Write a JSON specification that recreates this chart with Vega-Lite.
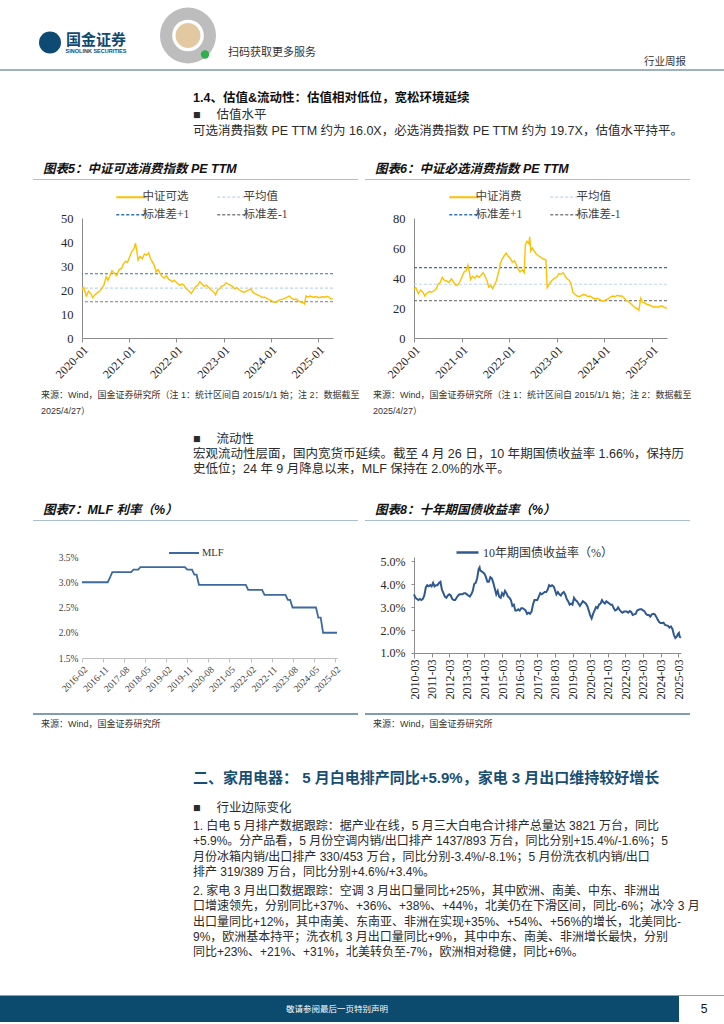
{
"$schema": "https://vega.github.io/schema/vega-lite/v6.json",
"padding": 0,
"spacing": 0,
"bounds": "flush",
"columns": 8,
"background": "white",
"resolve": {"scale": {"color": "independent"}},
"config": {"font": "Liberation Sans, Noto Sans CJK SC", "view": {"stroke": null}},
"datasets": {
"pe_kx": [
{"date":"2020-01-02","pe":20.0},{"date":"2020-01-15","pe":21.0},{"date":"2020-02-03","pe":17.5},{"date":"2020-02-20","pe":19.5},{"date":"2020-03-10","pe":18.5},{"date":"2020-03-23","pe":16.8},{"date":"2020-04-10","pe":18.0},{"date":"2020-04-28","pe":18.8},{"date":"2020-05-15","pe":19.5},{"date":"2020-06-01","pe":20.5},{"date":"2020-06-18","pe":22.0},{"date":"2020-07-06","pe":25.5},{"date":"2020-07-20","pe":24.0},{"date":"2020-08-05","pe":26.0},{"date":"2020-08-20","pe":28.0},{"date":"2020-09-07","pe":27.0},{"date":"2020-09-25","pe":26.0},{"date":"2020-10-15","pe":28.5},{"date":"2020-11-02","pe":29.0},{"date":"2020-11-18","pe":31.0},{"date":"2020-12-04","pe":32.0},{"date":"2020-12-18","pe":31.5},{"date":"2021-01-05","pe":34.0},{"date":"2021-01-20","pe":36.0},{"date":"2021-02-05","pe":37.0},{"date":"2021-02-18","pe":39.5},{"date":"2021-03-01","pe":36.0},{"date":"2021-03-10","pe":32.5},{"date":"2021-03-25","pe":34.0},{"date":"2021-04-12","pe":33.0},{"date":"2021-04-28","pe":35.0},{"date":"2021-05-14","pe":34.5},{"date":"2021-05-31","pe":35.5},{"date":"2021-06-15","pe":33.0},{"date":"2021-07-01","pe":31.5},{"date":"2021-07-15","pe":30.0},{"date":"2021-07-28","pe":27.5},{"date":"2021-08-12","pe":28.5},{"date":"2021-08-27","pe":27.0},{"date":"2021-09-13","pe":25.5},{"date":"2021-09-28","pe":25.0},{"date":"2021-10-15","pe":26.0},{"date":"2021-11-01","pe":24.5},{"date":"2021-11-16","pe":24.0},{"date":"2021-12-01","pe":23.5},{"date":"2021-12-15","pe":24.0},{"date":"2022-01-05","pe":23.0},{"date":"2022-01-25","pe":22.0},{"date":"2022-02-15","pe":22.5},{"date":"2022-03-01","pe":22.0},{"date":"2022-03-15","pe":20.5},{"date":"2022-04-01","pe":20.0},{"date":"2022-04-25","pe":18.5},{"date":"2022-05-12","pe":20.0},{"date":"2022-05-30","pe":21.5},{"date":"2022-06-15","pe":22.0},{"date":"2022-07-01","pe":23.5},{"date":"2022-07-18","pe":22.5},{"date":"2022-08-03","pe":21.5},{"date":"2022-08-20","pe":22.0},{"date":"2022-09-08","pe":21.0},{"date":"2022-09-26","pe":20.0},{"date":"2022-10-12","pe":19.5},{"date":"2022-10-31","pe":18.0},{"date":"2022-11-15","pe":20.0},{"date":"2022-12-01","pe":20.5},{"date":"2022-12-15","pe":21.5},{"date":"2023-01-05","pe":22.0},{"date":"2023-01-20","pe":23.0},{"date":"2023-02-06","pe":22.5},{"date":"2023-02-22","pe":22.0},{"date":"2023-03-10","pe":21.5},{"date":"2023-03-28","pe":20.5},{"date":"2023-04-14","pe":21.0},{"date":"2023-05-02","pe":20.0},{"date":"2023-05-20","pe":19.5},{"date":"2023-06-06","pe":19.0},{"date":"2023-06-25","pe":19.5},{"date":"2023-07-12","pe":20.0},{"date":"2023-07-31","pe":20.5},{"date":"2023-08-16","pe":19.0},{"date":"2023-09-01","pe":18.5},{"date":"2023-09-20","pe":18.0},{"date":"2023-10-10","pe":17.5},{"date":"2023-10-26","pe":17.0},{"date":"2023-11-14","pe":17.0},{"date":"2023-12-01","pe":16.5},{"date":"2023-12-20","pe":16.0},{"date":"2024-01-10","pe":15.5},{"date":"2024-01-25","pe":15.0},{"date":"2024-02-07","pe":14.8},{"date":"2024-02-26","pe":15.5},{"date":"2024-03-14","pe":16.0},{"date":"2024-04-01","pe":16.2},{"date":"2024-04-18","pe":16.5},{"date":"2024-05-08","pe":17.0},{"date":"2024-05-24","pe":17.5},{"date":"2024-06-12","pe":16.5},{"date":"2024-06-28","pe":16.0},{"date":"2024-07-16","pe":16.2},{"date":"2024-08-02","pe":15.5},{"date":"2024-08-20","pe":15.0},{"date":"2024-09-06","pe":14.8},{"date":"2024-09-18","pe":14.2},{"date":"2024-09-30","pe":17.5},{"date":"2024-10-15","pe":17.0},{"date":"2024-10-31","pe":17.5},{"date":"2024-11-15","pe":17.2},{"date":"2024-12-02","pe":17.0},{"date":"2024-12-18","pe":17.3},{"date":"2025-01-06","pe":16.8},{"date":"2025-01-22","pe":17.0},{"date":"2025-02-10","pe":17.2},{"date":"2025-02-26","pe":17.0},{"date":"2025-03-14","pe":17.4},{"date":"2025-03-31","pe":16.9},{"date":"2025-04-10","pe":16.2},{"date":"2025-04-25","pe":16.4}
],
"ref_kx": [{"s":"平均值","pe":20.8},{"s":"标准差+1","pe":26.8},{"s":"标准差-1","pe":15.1}],
"pe_bx": [
{"date":"2020-01-02","pe":32.5},{"date":"2020-01-15","pe":33.5},{"date":"2020-02-03","pe":29.5},{"date":"2020-02-20","pe":32.0},{"date":"2020-03-10","pe":30.5},{"date":"2020-03-23","pe":28.0},{"date":"2020-04-10","pe":30.0},{"date":"2020-04-28","pe":31.0},{"date":"2020-05-15","pe":30.5},{"date":"2020-06-01","pe":31.5},{"date":"2020-06-18","pe":32.5},{"date":"2020-07-06","pe":36.0},{"date":"2020-07-20","pe":37.0},{"date":"2020-08-05","pe":40.5},{"date":"2020-08-20","pe":38.5},{"date":"2020-09-07","pe":38.0},{"date":"2020-09-25","pe":37.0},{"date":"2020-10-15","pe":39.5},{"date":"2020-11-02","pe":37.0},{"date":"2020-11-18","pe":35.0},{"date":"2020-12-04","pe":35.5},{"date":"2020-12-18","pe":37.5},{"date":"2021-01-05","pe":41.0},{"date":"2021-01-20","pe":44.0},{"date":"2021-02-05","pe":45.0},{"date":"2021-02-18","pe":48.5},{"date":"2021-03-01","pe":44.0},{"date":"2021-03-10","pe":39.0},{"date":"2021-03-25","pe":41.0},{"date":"2021-04-12","pe":40.0},{"date":"2021-04-28","pe":41.5},{"date":"2021-05-14","pe":40.5},{"date":"2021-05-31","pe":42.0},{"date":"2021-06-15","pe":43.5},{"date":"2021-07-01","pe":41.0},{"date":"2021-07-15","pe":38.0},{"date":"2021-07-28","pe":34.0},{"date":"2021-08-12","pe":35.0},{"date":"2021-08-27","pe":33.0},{"date":"2021-09-10","pe":35.5},{"date":"2021-09-24","pe":38.0},{"date":"2021-10-12","pe":44.0},{"date":"2021-10-26","pe":50.0},{"date":"2021-11-10","pe":53.0},{"date":"2021-11-25","pe":55.0},{"date":"2021-12-10","pe":56.5},{"date":"2021-12-24","pe":54.5},{"date":"2022-01-10","pe":53.0},{"date":"2022-01-25","pe":50.5},{"date":"2022-02-10","pe":51.5},{"date":"2022-02-25","pe":49.0},{"date":"2022-03-10","pe":46.0},{"date":"2022-03-25","pe":44.0},{"date":"2022-04-12","pe":45.5},{"date":"2022-04-27","pe":43.5},{"date":"2022-05-05","pe":62.0},{"date":"2022-05-18","pe":64.5},{"date":"2022-06-01","pe":63.0},{"date":"2022-06-08","pe":67.5},{"date":"2022-06-16","pe":58.0},{"date":"2022-06-28","pe":60.0},{"date":"2022-07-12","pe":58.0},{"date":"2022-07-28","pe":56.0},{"date":"2022-08-12","pe":55.0},{"date":"2022-08-28","pe":54.0},{"date":"2022-09-12","pe":53.0},{"date":"2022-09-26","pe":52.5},{"date":"2022-10-10","pe":52.0},{"date":"2022-10-20","pe":33.5},{"date":"2022-11-05","pe":36.0},{"date":"2022-11-22","pe":38.0},{"date":"2022-12-08","pe":39.5},{"date":"2022-12-22","pe":40.0},{"date":"2023-01-05","pe":41.0},{"date":"2023-01-18","pe":43.0},{"date":"2023-02-03","pe":42.5},{"date":"2023-02-20","pe":43.5},{"date":"2023-03-08","pe":41.0},{"date":"2023-03-22","pe":39.5},{"date":"2023-04-06","pe":38.5},{"date":"2023-04-20","pe":36.5},{"date":"2023-05-05","pe":30.5},{"date":"2023-05-22","pe":29.0},{"date":"2023-06-08","pe":28.0},{"date":"2023-06-26","pe":27.5},{"date":"2023-07-12","pe":28.5},{"date":"2023-07-28","pe":29.0},{"date":"2023-08-14","pe":28.5},{"date":"2023-08-30","pe":27.5},{"date":"2023-09-15","pe":28.0},{"date":"2023-10-09","pe":26.5},{"date":"2023-10-25","pe":26.0},{"date":"2023-11-10","pe":26.5},{"date":"2023-11-27","pe":25.5},{"date":"2023-12-12","pe":25.0},{"date":"2023-12-28","pe":24.5},{"date":"2024-01-15","pe":25.5},{"date":"2024-01-31","pe":26.0},{"date":"2024-02-20","pe":27.5},{"date":"2024-03-07","pe":28.0},{"date":"2024-03-22","pe":27.5},{"date":"2024-04-10","pe":28.5},{"date":"2024-04-26","pe":28.0},{"date":"2024-05-14","pe":28.0},{"date":"2024-05-30","pe":27.0},{"date":"2024-06-17","pe":25.0},{"date":"2024-07-03","pe":24.5},{"date":"2024-07-22","pe":23.0},{"date":"2024-08-08","pe":21.5},{"date":"2024-08-26","pe":20.0},{"date":"2024-09-12","pe":19.5},{"date":"2024-09-23","pe":18.5},{"date":"2024-10-08","pe":26.5},{"date":"2024-10-20","pe":24.0},{"date":"2024-11-06","pe":23.5},{"date":"2024-11-22","pe":22.5},{"date":"2024-12-10","pe":22.0},{"date":"2024-12-26","pe":21.5},{"date":"2025-01-13","pe":20.5},{"date":"2025-01-28","pe":20.8},{"date":"2025-02-14","pe":20.5},{"date":"2025-03-03","pe":21.0},{"date":"2025-03-19","pe":21.5},{"date":"2025-04-03","pe":20.5},{"date":"2025-04-25","pe":19.7}
],
"ref_bx": [{"s":"平均值","pe":35.8},{"s":"标准差+1","pe":46.9},{"s":"标准差-1","pe":24.9}],
"mlf": [
{"date":"2016-02-01","r":3.00},{"date":"2017-01-01","r":3.00},{"date":"2017-02-01","r":3.10},{"date":"2017-03-01","r":3.20},{"date":"2017-11-01","r":3.20},{"date":"2017-12-01","r":3.25},{"date":"2018-02-01","r":3.25},{"date":"2018-03-01","r":3.30},{"date":"2019-10-01","r":3.30},{"date":"2019-11-01","r":3.25},{"date":"2020-01-01","r":3.25},{"date":"2020-02-01","r":3.15},{"date":"2020-03-01","r":3.15},{"date":"2020-04-01","r":2.95},{"date":"2021-12-01","r":2.95},{"date":"2022-01-01","r":2.85},{"date":"2022-07-01","r":2.85},{"date":"2022-08-01","r":2.75},{"date":"2023-05-01","r":2.75},{"date":"2023-06-01","r":2.65},{"date":"2023-07-01","r":2.65},{"date":"2023-08-01","r":2.50},{"date":"2024-06-01","r":2.50},{"date":"2024-07-01","r":2.30},{"date":"2024-08-01","r":2.30},{"date":"2024-09-01","r":2.00},{"date":"2025-03-01","r":2.00}
],
"cgb": [
{"date":"2010-03-01","r":3.55},{"date":"2010-04-01","r":3.40},{"date":"2010-05-01","r":3.35},{"date":"2010-06-01","r":3.30},{"date":"2010-07-01","r":3.35},{"date":"2010-08-01","r":3.30},{"date":"2010-09-01","r":3.35},{"date":"2010-10-01","r":3.50},{"date":"2010-11-01","r":3.85},{"date":"2010-12-01","r":3.95},{"date":"2011-01-01","r":3.90},{"date":"2011-02-01","r":3.95},{"date":"2011-03-01","r":3.90},{"date":"2011-04-01","r":4.05},{"date":"2011-05-01","r":3.90},{"date":"2011-06-01","r":3.95},{"date":"2011-07-01","r":3.95},{"date":"2011-08-01","r":4.05},{"date":"2011-09-01","r":4.10},{"date":"2011-10-01","r":3.75},{"date":"2011-11-01","r":3.60},{"date":"2011-12-01","r":3.45},{"date":"2012-01-01","r":3.40},{"date":"2012-02-01","r":3.50},{"date":"2012-03-01","r":3.55},{"date":"2012-04-01","r":3.50},{"date":"2012-05-01","r":3.35},{"date":"2012-06-01","r":3.30},{"date":"2012-07-01","r":3.30},{"date":"2012-08-01","r":3.40},{"date":"2012-09-01","r":3.50},{"date":"2012-10-01","r":3.55},{"date":"2012-11-01","r":3.55},{"date":"2012-12-01","r":3.55},{"date":"2013-01-01","r":3.60},{"date":"2013-02-01","r":3.60},{"date":"2013-03-01","r":3.55},{"date":"2013-04-01","r":3.50},{"date":"2013-05-01","r":3.45},{"date":"2013-06-01","r":3.55},{"date":"2013-07-01","r":3.70},{"date":"2013-08-01","r":4.00},{"date":"2013-09-01","r":4.05},{"date":"2013-10-01","r":4.25},{"date":"2013-11-01","r":4.65},{"date":"2013-11-20","r":4.72},{"date":"2013-12-01","r":4.60},{"date":"2014-01-01","r":4.55},{"date":"2014-02-01","r":4.50},{"date":"2014-03-01","r":4.45},{"date":"2014-04-01","r":4.30},{"date":"2014-05-01","r":4.10},{"date":"2014-06-01","r":4.10},{"date":"2014-07-01","r":4.30},{"date":"2014-08-01","r":4.25},{"date":"2014-09-01","r":4.05},{"date":"2014-10-01","r":3.80},{"date":"2014-11-01","r":3.55},{"date":"2014-12-01","r":3.70},{"date":"2015-01-01","r":3.45},{"date":"2015-02-01","r":3.40},{"date":"2015-03-01","r":3.60},{"date":"2015-04-01","r":3.50},{"date":"2015-05-01","r":3.70},{"date":"2015-06-01","r":3.60},{"date":"2015-07-01","r":3.45},{"date":"2015-08-01","r":3.40},{"date":"2015-09-01","r":3.30},{"date":"2015-10-01","r":3.05},{"date":"2015-11-01","r":3.10},{"date":"2015-12-01","r":2.85},{"date":"2016-01-01","r":2.85},{"date":"2016-02-01","r":2.90},{"date":"2016-03-01","r":2.85},{"date":"2016-04-01","r":2.95},{"date":"2016-05-01","r":2.95},{"date":"2016-06-01","r":2.90},{"date":"2016-07-01","r":2.85},{"date":"2016-08-01","r":2.70},{"date":"2016-09-01","r":2.75},{"date":"2016-10-01","r":2.70},{"date":"2016-11-01","r":2.80},{"date":"2016-12-01","r":3.10},{"date":"2017-01-01","r":3.30},{"date":"2017-02-01","r":3.30},{"date":"2017-03-01","r":3.30},{"date":"2017-04-01","r":3.45},{"date":"2017-05-01","r":3.60},{"date":"2017-06-01","r":3.55},{"date":"2017-07-01","r":3.60},{"date":"2017-08-01","r":3.65},{"date":"2017-09-01","r":3.65},{"date":"2017-10-01","r":3.75},{"date":"2017-11-01","r":3.95},{"date":"2017-12-01","r":3.90},{"date":"2018-01-01","r":3.95},{"date":"2018-02-01","r":3.90},{"date":"2018-03-01","r":3.75},{"date":"2018-04-01","r":3.55},{"date":"2018-05-01","r":3.65},{"date":"2018-06-01","r":3.55},{"date":"2018-07-01","r":3.50},{"date":"2018-08-01","r":3.60},{"date":"2018-09-01","r":3.65},{"date":"2018-10-01","r":3.55},{"date":"2018-11-01","r":3.35},{"date":"2018-12-01","r":3.25},{"date":"2019-01-01","r":3.10},{"date":"2019-02-01","r":3.15},{"date":"2019-03-01","r":3.10},{"date":"2019-04-01","r":3.40},{"date":"2019-05-01","r":3.30},{"date":"2019-06-01","r":3.25},{"date":"2019-07-01","r":3.15},{"date":"2019-08-01","r":3.05},{"date":"2019-09-01","r":3.15},{"date":"2019-10-01","r":3.25},{"date":"2019-11-01","r":3.20},{"date":"2019-12-01","r":3.15},{"date":"2020-01-01","r":3.05},{"date":"2020-02-01","r":2.85},{"date":"2020-03-01","r":2.65},{"date":"2020-04-01","r":2.50},{"date":"2020-05-01","r":2.70},{"date":"2020-06-01","r":2.85},{"date":"2020-07-01","r":3.00},{"date":"2020-08-01","r":2.95},{"date":"2020-09-01","r":3.10},{"date":"2020-10-01","r":3.15},{"date":"2020-11-01","r":3.30},{"date":"2020-12-01","r":3.20},{"date":"2021-01-01","r":3.15},{"date":"2021-02-01","r":3.25},{"date":"2021-03-01","r":3.20},{"date":"2021-04-01","r":3.15},{"date":"2021-05-01","r":3.10},{"date":"2021-06-01","r":3.10},{"date":"2021-07-01","r":2.95},{"date":"2021-08-01","r":2.85},{"date":"2021-09-01","r":2.88},{"date":"2021-10-01","r":2.98},{"date":"2021-11-01","r":2.88},{"date":"2021-12-01","r":2.80},{"date":"2022-01-01","r":2.75},{"date":"2022-02-01","r":2.80},{"date":"2022-03-01","r":2.80},{"date":"2022-04-01","r":2.80},{"date":"2022-05-01","r":2.75},{"date":"2022-06-01","r":2.82},{"date":"2022-07-01","r":2.78},{"date":"2022-08-01","r":2.65},{"date":"2022-09-01","r":2.68},{"date":"2022-10-01","r":2.70},{"date":"2022-11-01","r":2.85},{"date":"2022-12-01","r":2.88},{"date":"2023-01-01","r":2.90},{"date":"2023-02-01","r":2.90},{"date":"2023-03-01","r":2.85},{"date":"2023-04-01","r":2.82},{"date":"2023-05-01","r":2.70},{"date":"2023-06-01","r":2.65},{"date":"2023-07-01","r":2.65},{"date":"2023-08-01","r":2.58},{"date":"2023-09-01","r":2.68},{"date":"2023-10-01","r":2.70},{"date":"2023-11-01","r":2.68},{"date":"2023-12-01","r":2.58},{"date":"2024-01-01","r":2.45},{"date":"2024-02-01","r":2.35},{"date":"2024-03-01","r":2.30},{"date":"2024-04-01","r":2.30},{"date":"2024-05-01","r":2.32},{"date":"2024-06-01","r":2.22},{"date":"2024-07-01","r":2.20},{"date":"2024-08-01","r":2.18},{"date":"2024-09-01","r":2.10},{"date":"2024-10-01","r":2.15},{"date":"2024-11-01","r":2.05},{"date":"2024-12-01","r":1.80},{"date":"2025-01-01","r":1.65},{"date":"2025-02-01","r":1.72},{"date":"2025-03-01","r":1.85},{"date":"2025-03-15","r":1.88},{"date":"2025-04-01","r":1.70},{"date":"2025-04-25","r":1.66}
]
},
"concat": [
{"width":33,"height":69,"data":{"values":[]},"mark":"rule","encoding":{}},
{"width":49,"height":69,"data":{"values":[{}]},"layer":[
  {"mark":{"type":"point","shape":"circle","filled":true,"size":484,"color":"#0e4a72","opacity":1,"xOffset":-7.5,"yOffset":8},"encoding":{}},
  {"mark":{"type":"text","text":"国金证券","font":"Noto Sans CJK SC","fontSize":15,"fontWeight":"bold","color":"#0e4a72","align":"center","baseline":"middle","dx":38.5,"dy":5.5},"encoding":{}},
  {"mark":{"type":"text","text":"SINOLINK SECURITIES","font":"Liberation Sans","fontSize":5.5,"fontWeight":"bold","color":"#0e4a72","align":"center","baseline":"middle","dx":38.5,"dy":16},"encoding":{}},
  {"mark":{"type":"point","shape":"circle","filled":true,"size":3136,"color":"#bdbdbd","opacity":1,"xOffset":130.5,"yOffset":1},"encoding":{}},
  {"mark":{"type":"point","shape":"circle","filled":true,"size":1000,"color":"#ffffff","opacity":1,"xOffset":130.5,"yOffset":1},"encoding":{}},
  {"mark":{"type":"point","shape":"circle","filled":true,"size":620,"color":"#e2c9a2","opacity":1,"xOffset":130.5,"yOffset":1},"encoding":{}},
  {"mark":{"type":"point","shape":"circle","filled":true,"size":70,"color":"#2bb04a","opacity":1,"xOffset":147.5,"yOffset":20},"encoding":{}},
  {"mark":{"type":"text","text":"扫码获取更多服务","font":"Noto Sans CJK SC","fontSize":11,"color":"#333333","align":"center","baseline":"middle","dx":214.5,"dy":18.5},"encoding":{}},
  {"mark":{"type":"text","text":"行业周报","font":"Noto Sans CJK SC","fontSize":10.5,"color":"#333333","align":"center","baseline":"middle","dx":607.5,"dy":27.5},"encoding":{}}
]},
{"width":255,"height":69,"data":{"values":[]},"mark":"rule","encoding":{}},
{"width":21,"height":69,"data":{"values":[]},"mark":"rule","encoding":{}},
{"width":7,"height":69,"data":{"values":[]},"mark":"rule","encoding":{}},
{"width":49,"height":69,"data":{"values":[]},"mark":"rule","encoding":{}},
{"width":267,"height":69,"data":{"values":[]},"mark":"rule","encoding":{}},
{"width":43,"height":69,"data":{"values":[]},"mark":"rule","encoding":{}},

{"width":33,"height":2,"view":{"fill":"#9db2c2","stroke":null},"data":{"values":[]},"mark":"rule","encoding":{},
 "title":{"text":"1.4、估值&流动性：估值相对低位，宽松环境延续","orient":"bottom","anchor":"start","frame":"group","dx":193,"offset":21,"baseline":"top","fontSize":12.5,"fontWeight":"bold","color":"#111111"}},
{"width":49,"height":2,"view":{"fill":"#9db2c2","stroke":null},"data":{"values":[]},"mark":"rule","encoding":{}},
{"width":255,"height":2,"view":{"fill":"#9db2c2","stroke":null},"data":{"values":[]},"mark":"rule","encoding":{}},
{"width":21,"height":2,"view":{"fill":"#9db2c2","stroke":null},"data":{"values":[]},"mark":"rule","encoding":{}},
{"width":7,"height":2,"view":{"fill":"#9db2c2","stroke":null},"data":{"values":[]},"mark":"rule","encoding":{}},
{"width":49,"height":2,"view":{"fill":"#9db2c2","stroke":null},"data":{"values":[]},"mark":"rule","encoding":{}},
{"width":267,"height":2,"view":{"fill":"#9db2c2","stroke":null},"data":{"values":[]},"mark":"rule","encoding":{}},
{"width":43,"height":2,"view":{"fill":"#9db2c2","stroke":null},"data":{"values":[]},"mark":"rule","encoding":{}},

{"width":33,"height":38,"data":{"values":[]},"mark":"rule","encoding":{},
 "title":{"text":["■　   估值水平","可选消费指数 PE TTM 约为 16.0X，必选消费指数 PE TTM 约为 19.7X，估值水平持平。"],"orient":"bottom","anchor":"start","frame":"group","dx":193,"offset":0,"baseline":"top","lineHeight":16,"fontSize":12.5,"fontWeight":"normal","color":"#2b2b2b"}},
{"width":49,"height":38,"data":{"values":[]},"mark":"rule","encoding":{}},
{"width":255,"height":38,"data":{"values":[]},"mark":"rule","encoding":{}},
{"width":21,"height":38,"data":{"values":[]},"mark":"rule","encoding":{}},
{"width":7,"height":38,"data":{"values":[]},"mark":"rule","encoding":{}},
{"width":49,"height":38,"data":{"values":[]},"mark":"rule","encoding":{}},
{"width":267,"height":38,"data":{"values":[]},"mark":"rule","encoding":{}},
{"width":43,"height":38,"data":{"values":[]},"mark":"rule","encoding":{}},

{"width":33,"height":54,"data":{"values":[]},"mark":"rule","encoding":{}},
{"width":49,"height":54,"data":{"values":[]},"mark":"rule","encoding":{},
 "title":{"text":"图表5：中证可选消费指数 PE TTM","orient":"bottom","anchor":"start","frame":"group","dx":10,"offset":0,"baseline":"top","fontSize":12.5,"fontWeight":"bold","fontStyle":"italic","color":"#111111"}},
{"width":255,"height":54,"data":{"values":[]},"mark":"rule","encoding":{}},
{"width":21,"height":54,"data":{"values":[]},"mark":"rule","encoding":{}},
{"width":7,"height":54,"data":{"values":[]},"mark":"rule","encoding":{}},
{"width":49,"height":54,"data":{"values":[]},"mark":"rule","encoding":{},
 "title":{"text":"图表6：中证必选消费指数 PE TTM","orient":"bottom","anchor":"start","frame":"group","dx":10,"offset":0,"baseline":"top","fontSize":12.5,"fontWeight":"bold","fontStyle":"italic","color":"#111111"}},
{"width":267,"height":54,"data":{"values":[]},"mark":"rule","encoding":{}},
{"width":43,"height":54,"data":{"values":[]},"mark":"rule","encoding":{}},

{"width":33,"height":16,"data":{"values":[]},"mark":"rule","encoding":{}},
{"width":49,"height":16,"data":{"values":[]},"mark":"rule","encoding":{}},
{"width":255,"height":16,"data":{"values":[]},"mark":"rule","encoding":{}},
{"width":21,"height":16,"data":{"values":[]},"mark":"rule","encoding":{}},
{"width":7,"height":16,"data":{"values":[]},"mark":"rule","encoding":{}},
{"width":49,"height":16,"data":{"values":[]},"mark":"rule","encoding":{}},
{"width":267,"height":16,"data":{"values":[]},"mark":"rule","encoding":{}},
{"width":43,"height":16,"data":{"values":[]},"mark":"rule","encoding":{}},

{"width":33,"height":1,"data":{"values":[]},"mark":"rule","encoding":{}},
{"width":49,"height":1,"view":{"fill":"#a9bfcf","stroke":null},"data":{"values":[]},"mark":"rule","encoding":{}},
{"width":255,"height":1,"view":{"fill":"#a9bfcf","stroke":null},"data":{"values":[]},"mark":"rule","encoding":{}},
{"width":21,"height":1,"view":{"fill":"#a9bfcf","stroke":null},"data":{"values":[]},"mark":"rule","encoding":{}},
{"width":7,"height":1,"data":{"values":[]},"mark":"rule","encoding":{}},
{"width":49,"height":1,"view":{"fill":"#a9bfcf","stroke":null},"data":{"values":[]},"mark":"rule","encoding":{}},
{"width":267,"height":1,"view":{"fill":"#a9bfcf","stroke":null},"data":{"values":[]},"mark":"rule","encoding":{}},
{"width":9,"height":1,"view":{"fill":"#a9bfcf","stroke":null},"data":{"values":[]},"mark":"rule","encoding":{}},

{"width":33,"height":38,"data":{"values":[]},"mark":"rule","encoding":{}},
{"width":49,"height":38,"data":{"values":[]},"mark":"rule","encoding":{}},
{"width":255,"height":38,"data":{"values":[]},"mark":"rule","encoding":{}},
{"width":21,"height":38,"data":{"values":[]},"mark":"rule","encoding":{}},
{"width":7,"height":38,"data":{"values":[]},"mark":"rule","encoding":{}},
{"width":49,"height":38,"data":{"values":[]},"mark":"rule","encoding":{}},
{"width":267,"height":38,"data":{"values":[]},"mark":"rule","encoding":{}},
{"width":43,"height":38,"data":{"values":[]},"mark":"rule","encoding":{}},

{"width":33,"height":120,"data":{"values":[]},"mark":"rule","encoding":{}},
{"width":49,"height":120,"data":{"values":[]},"mark":"rule","encoding":{}},
{"width":251,"height":120,
 "layer":[
  {"data":{"name":"ref_kx"},"mark":{"type":"rule","strokeDash":[3,2],"strokeWidth":1.1},
   "encoding":{"y":{"field":"pe","type":"quantitative","scale":{"domain":[0,50],"nice":false},"axis":{"values":[0,10,20,30,40,50],"labelOverlap":false,"labelFont":"Liberation Serif","labelFontSize":12.5,"labelColor":"#262626","ticks":false,"domainColor":"#8c8c8c","grid":false,"title":null,"labelPadding":9}},
    "color":{"field":"s","type":"nominal","scale":{"domain":["中证可选","标准差+1","平均值","标准差-1"],"range":["#ffc000","#2e75b6","#bdd7ee","#808080"]},
     "legend":{"title":null,"orient":"none","legendX":44,"legendY":-27,"columns":2,"symbolType":"stroke","symbolSize":961,"symbolStrokeWidth":1.5,"labelFont":"Liberation Serif, Noto Sans CJK SC","labelFontSize":11.5,"labelColor":"#404040","labelOffset":5,"columnPadding":24,"rowPadding":5,"padding":0,
      "encode":{"symbols":{"update":{"strokeDash":{"signal":"datum.value == '中证可选' ? [1,0] : [3,2]"},"strokeWidth":{"signal":"datum.value == '中证可选' ? 2 : 1.3"}}}}}}}},
  {"data":{"name":"pe_kx"},"mark":{"type":"line","strokeWidth":1.4},
   "encoding":{"x":{"field":"date","type":"temporal","scale":{"domain":[{"year":2020,"month":1,"date":1},{"year":2025,"month":4,"date":27}]},
     "axis":{"values":[{"year":2020,"month":1,"date":1},{"year":2021,"month":1,"date":1},{"year":2022,"month":1,"date":1},{"year":2023,"month":1,"date":1},{"year":2024,"month":1,"date":1},{"year":2025,"month":1,"date":1}],"format":"%Y-%m","labelAngle":-45,"labelFont":"Liberation Serif","labelFontSize":12,"labelColor":"#262626","domainColor":"#8c8c8c","tickColor":"#8c8c8c","tickSize":4,"grid":false,"title":null,"labelOverlap":false,"labelPadding":2}},
    "y":{"field":"pe","type":"quantitative","scale":{"domain":[0,50],"nice":false},"axis":{"values":[0,10,20,30,40,50],"labelOverlap":false,"labelFont":"Liberation Serif","labelFontSize":12.5,"labelColor":"#262626","ticks":false,"domainColor":"#8c8c8c","grid":false,"title":null,"labelPadding":9}},
    "color":{"datum":"中证可选","type":"nominal"}}}
 ]},
{"width":21,"height":120,"data":{"values":[]},"mark":"rule","encoding":{}},
{"width":7,"height":120,"data":{"values":[]},"mark":"rule","encoding":{}},
{"width":49,"height":120,"data":{"values":[]},"mark":"rule","encoding":{}},
{"width":253,"height":120,
 "layer":[
  {"data":{"name":"ref_bx"},"mark":{"type":"rule","strokeDash":[3,2],"strokeWidth":1.1},
   "encoding":{"y":{"field":"pe","type":"quantitative","scale":{"domain":[0,80],"nice":false},"axis":{"values":[0,20,40,60,80],"labelOverlap":false,"labelFont":"Liberation Serif","labelFontSize":12.5,"labelColor":"#262626","ticks":false,"domainColor":"#8c8c8c","grid":false,"title":null,"labelPadding":9}},
    "color":{"field":"s","type":"nominal","scale":{"domain":["中证消费","标准差+1","平均值","标准差-1"],"range":["#ffc000","#2e75b6","#bdd7ee","#808080"]},
     "legend":{"title":null,"orient":"none","legendX":45,"legendY":-27,"columns":2,"symbolType":"stroke","symbolSize":961,"symbolStrokeWidth":1.5,"labelFont":"Liberation Serif, Noto Sans CJK SC","labelFontSize":11.5,"labelColor":"#404040","labelOffset":5,"columnPadding":24,"rowPadding":5,"padding":0,
      "encode":{"symbols":{"update":{"strokeDash":{"signal":"datum.value == '中证消费' ? [1,0] : [3,2]"},"strokeWidth":{"signal":"datum.value == '中证消费' ? 2 : 1.3"}}}}}}}},
  {"data":{"name":"pe_bx"},"mark":{"type":"line","strokeWidth":1.4},
   "encoding":{"x":{"field":"date","type":"temporal","scale":{"domain":[{"year":2020,"month":1,"date":1},{"year":2025,"month":4,"date":27}]},
     "axis":{"values":[{"year":2020,"month":1,"date":1},{"year":2021,"month":1,"date":1},{"year":2022,"month":1,"date":1},{"year":2023,"month":1,"date":1},{"year":2024,"month":1,"date":1},{"year":2025,"month":1,"date":1}],"format":"%Y-%m","labelAngle":-45,"labelFont":"Liberation Serif","labelFontSize":12,"labelColor":"#262626","domainColor":"#8c8c8c","tickColor":"#8c8c8c","tickSize":4,"grid":false,"title":null,"labelOverlap":false,"labelPadding":2}},
    "y":{"field":"pe","type":"quantitative","scale":{"domain":[0,80],"nice":false},"axis":{"values":[0,20,40,60,80],"labelOverlap":false,"labelFont":"Liberation Serif","labelFontSize":12.5,"labelColor":"#262626","ticks":false,"domainColor":"#8c8c8c","grid":false,"title":null,"labelPadding":9}},
    "color":{"datum":"中证消费","type":"nominal"}}}
 ]},
{"width":43,"height":120,"data":{"values":[]},"mark":"rule","encoding":{}},

{"width":33,"height":53,"data":{"values":[]},"mark":"rule","encoding":{}},
{"width":49,"height":53,"data":{"values":[]},"mark":"rule","encoding":{},
 "title":{"text":["来源：Wind，国金证券研究所（注 1：统计区间自 2015/1/1 始；注 2：数据截至","2025/4/27）"],"orient":"bottom","anchor":"start","frame":"group","dx":8,"offset":0,"baseline":"top","lineHeight":16,"fontSize":9,"fontWeight":"normal","color":"#333333"}},
{"width":255,"height":53,"data":{"values":[]},"mark":"rule","encoding":{}},
{"width":21,"height":53,"data":{"values":[]},"mark":"rule","encoding":{}},
{"width":7,"height":53,"data":{"values":[]},"mark":"rule","encoding":{}},
{"width":49,"height":53,"data":{"values":[]},"mark":"rule","encoding":{},
 "title":{"text":["来源：Wind，国金证券研究所（注 1：统计区间自 2015/1/1 始；注 2：数据截至","2025/4/27）"],"orient":"bottom","anchor":"start","frame":"group","dx":8,"offset":0,"baseline":"top","lineHeight":16,"fontSize":9,"fontWeight":"normal","color":"#333333"}},
{"width":267,"height":53,"data":{"values":[]},"mark":"rule","encoding":{}},
{"width":43,"height":53,"data":{"values":[]},"mark":"rule","encoding":{}},

{"width":33,"height":42,"data":{"values":[]},"mark":"rule","encoding":{},
 "title":{"text":["■　   流动性","宏观流动性层面，国内宽货币延续。截至 4 月 26 日，10 年期国债收益率 1.66%，保持历","史低位；24 年 9 月降息以来，MLF 保持在 2.0%的水平。"],"orient":"bottom","anchor":"start","frame":"group","dx":193,"offset":0,"baseline":"top","lineHeight":15,"fontSize":12.5,"fontWeight":"normal","color":"#2b2b2b"}},
{"width":49,"height":42,"data":{"values":[]},"mark":"rule","encoding":{}},
{"width":255,"height":42,"data":{"values":[]},"mark":"rule","encoding":{}},
{"width":21,"height":42,"data":{"values":[]},"mark":"rule","encoding":{}},
{"width":7,"height":42,"data":{"values":[]},"mark":"rule","encoding":{}},
{"width":49,"height":42,"data":{"values":[]},"mark":"rule","encoding":{}},
{"width":267,"height":42,"data":{"values":[]},"mark":"rule","encoding":{}},
{"width":43,"height":42,"data":{"values":[]},"mark":"rule","encoding":{}},

{"width":33,"height":71,"data":{"values":[]},"mark":"rule","encoding":{}},
{"width":49,"height":71,"data":{"values":[]},"mark":"rule","encoding":{},
 "title":{"text":"图表7：MLF 利率（%）","orient":"bottom","anchor":"start","frame":"group","dx":10,"offset":0,"baseline":"top","fontSize":12.5,"fontWeight":"bold","fontStyle":"italic","color":"#111111"}},
{"width":255,"height":71,"data":{"values":[]},"mark":"rule","encoding":{}},
{"width":21,"height":71,"data":{"values":[]},"mark":"rule","encoding":{}},
{"width":7,"height":71,"data":{"values":[]},"mark":"rule","encoding":{}},
{"width":49,"height":71,"data":{"values":[]},"mark":"rule","encoding":{},
 "title":{"text":"图表8：十年期国债收益率（%）","orient":"bottom","anchor":"start","frame":"group","dx":10,"offset":0,"baseline":"top","fontSize":12.5,"fontWeight":"bold","fontStyle":"italic","color":"#111111"}},
{"width":267,"height":71,"data":{"values":[]},"mark":"rule","encoding":{}},
{"width":43,"height":71,"data":{"values":[]},"mark":"rule","encoding":{}},

{"width":33,"height":16,"data":{"values":[]},"mark":"rule","encoding":{}},
{"width":49,"height":16,"data":{"values":[]},"mark":"rule","encoding":{}},
{"width":255,"height":16,"data":{"values":[]},"mark":"rule","encoding":{}},
{"width":21,"height":16,"data":{"values":[]},"mark":"rule","encoding":{}},
{"width":7,"height":16,"data":{"values":[]},"mark":"rule","encoding":{}},
{"width":49,"height":16,"data":{"values":[]},"mark":"rule","encoding":{}},
{"width":267,"height":16,"data":{"values":[]},"mark":"rule","encoding":{}},
{"width":43,"height":16,"data":{"values":[]},"mark":"rule","encoding":{}},

{"width":33,"height":1,"data":{"values":[]},"mark":"rule","encoding":{}},
{"width":49,"height":1,"view":{"fill":"#a9bfcf","stroke":null},"data":{"values":[]},"mark":"rule","encoding":{}},
{"width":255,"height":1,"view":{"fill":"#a9bfcf","stroke":null},"data":{"values":[]},"mark":"rule","encoding":{}},
{"width":21,"height":1,"view":{"fill":"#a9bfcf","stroke":null},"data":{"values":[]},"mark":"rule","encoding":{}},
{"width":7,"height":1,"data":{"values":[]},"mark":"rule","encoding":{}},
{"width":49,"height":1,"view":{"fill":"#a9bfcf","stroke":null},"data":{"values":[]},"mark":"rule","encoding":{}},
{"width":267,"height":1,"view":{"fill":"#a9bfcf","stroke":null},"data":{"values":[]},"mark":"rule","encoding":{}},
{"width":9,"height":1,"view":{"fill":"#a9bfcf","stroke":null},"data":{"values":[]},"mark":"rule","encoding":{}},

{"width":33,"height":36,"data":{"values":[]},"mark":"rule","encoding":{}},
{"width":49,"height":36,"data":{"values":[]},"mark":"rule","encoding":{}},
{"width":255,"height":36,"data":{"values":[]},"mark":"rule","encoding":{}},
{"width":21,"height":36,"data":{"values":[]},"mark":"rule","encoding":{}},
{"width":7,"height":36,"data":{"values":[]},"mark":"rule","encoding":{}},
{"width":49,"height":36,"data":{"values":[]},"mark":"rule","encoding":{}},
{"width":267,"height":36,"data":{"values":[]},"mark":"rule","encoding":{}},
{"width":43,"height":36,"data":{"values":[]},"mark":"rule","encoding":{}},

{"width":33,"height":101,"data":{"values":[]},"mark":"rule","encoding":{}},
{"width":49,"height":101,"data":{"values":[]},"mark":"rule","encoding":{}},
{"width":255,"height":101,"data":{"name":"mlf"},"mark":{"type":"line","strokeWidth":1.8},
 "encoding":{"x":{"field":"date","type":"temporal","scale":{"domain":[{"year":2016,"month":2,"date":1},{"year":2025,"month":3,"date":1}]},
   "axis":{"values":[{"year":2016,"month":2,"date":1},{"year":2016,"month":11,"date":1},{"year":2017,"month":8,"date":1},{"year":2018,"month":5,"date":1},{"year":2019,"month":2,"date":1},{"year":2019,"month":11,"date":1},{"year":2020,"month":8,"date":1},{"year":2021,"month":5,"date":1},{"year":2022,"month":2,"date":1},{"year":2022,"month":11,"date":1},{"year":2023,"month":8,"date":1},{"year":2024,"month":5,"date":1},{"year":2025,"month":2,"date":1}],"format":"%Y-%m","labelAngle":-45,"labelFont":"Liberation Serif","labelFontSize":9.5,"labelColor":"#404040","domainColor":"#bfbfbf","tickColor":"#bfbfbf","tickSize":4,"grid":false,"title":null,"labelOverlap":false,"labelPadding":2}},
  "y":{"field":"r","type":"quantitative","scale":{"domain":[1.5,3.5],"nice":false,"zero":false},"axis":{"values":[1.5,2.0,2.5,3.0,3.5],"labelOverlap":false,"labelExpr":"format(datum.value, '.1f') + '%'","labelFont":"Liberation Serif","labelFontSize":9.5,"labelColor":"#404040","domain":false,"ticks":false,"grid":false,"title":null,"labelPadding":4}},
  "color":{"datum":"MLF","type":"nominal","scale":{"range":["#3c6aa0"]},"legend":{"title":null,"orient":"none","legendX":86,"legendY":-20,"symbolType":"stroke","symbolSize":900,"symbolStrokeWidth":2,"labelFont":"Liberation Serif","labelFontSize":10.5,"labelColor":"#333333","labelOffset":2,"padding":0}}}},
{"width":21,"height":101,"data":{"values":[]},"mark":"rule","encoding":{}},
{"width":7,"height":101,"data":{"values":[]},"mark":"rule","encoding":{}},
{"width":49,"height":101,"data":{"values":[]},"mark":"rule","encoding":{}},
{"width":267,"height":101,"data":{"name":"cgb"},"mark":{"type":"line","strokeWidth":2},
 "encoding":{"x":{"field":"date","type":"temporal","scale":{"domain":[{"year":2010,"month":3,"date":1},{"year":2025,"month":4,"date":28}]},
   "axis":{"values":[{"year":2010,"month":3,"date":1},{"year":2011,"month":3,"date":1},{"year":2012,"month":3,"date":1},{"year":2013,"month":3,"date":1},{"year":2014,"month":3,"date":1},{"year":2015,"month":3,"date":1},{"year":2016,"month":3,"date":1},{"year":2017,"month":3,"date":1},{"year":2018,"month":3,"date":1},{"year":2019,"month":3,"date":1},{"year":2020,"month":3,"date":1},{"year":2021,"month":3,"date":1},{"year":2022,"month":3,"date":1},{"year":2023,"month":3,"date":1},{"year":2024,"month":3,"date":1},{"year":2025,"month":3,"date":1}],"format":"%Y-%m","labelAngle":-90,"labelFont":"Liberation Serif","labelFontSize":12,"labelColor":"#262626","domainColor":"#8c8c8c","tickColor":"#8c8c8c","tickSize":4,"grid":false,"title":null,"labelOverlap":false,"labelPadding":2,"offset":-5}},
  "y":{"field":"r","type":"quantitative","scale":{"domain":[0.7826,5.174],"nice":false,"zero":false},"axis":{"values":[1,2,3,4,5],"labelOverlap":false,"labelExpr":"format(datum.value, '.1f') + '%'","labelFont":"Liberation Serif","labelFontSize":12,"labelColor":"#262626","domainColor":"#8c8c8c","tickColor":"#8c8c8c","tickSize":3,"grid":false,"title":null,"labelPadding":6}},
  "color":{"datum":"10年期国债收益率（%）","type":"nominal","scale":{"range":["#2f5a8f"]},"legend":{"title":null,"orient":"none","legendX":41,"legendY":-17,"symbolType":"stroke","symbolSize":484,"symbolStrokeWidth":2.5,"labelFont":"Liberation Serif, Noto Sans CJK SC","labelFontSize":12,"labelColor":"#333333","labelOffset":3,"padding":0}}}},
{"width":43,"height":101,"data":{"values":[]},"mark":"rule","encoding":{}},

{"width":33,"height":55,"data":{"values":[]},"mark":"rule","encoding":{}},
{"width":49,"height":55,"data":{"values":[]},"mark":"rule","encoding":{}},
{"width":255,"height":55,"data":{"values":[]},"mark":"rule","encoding":{}},
{"width":21,"height":55,"data":{"values":[]},"mark":"rule","encoding":{}},
{"width":7,"height":55,"data":{"values":[]},"mark":"rule","encoding":{}},
{"width":49,"height":55,"data":{"values":[]},"mark":"rule","encoding":{}},
{"width":267,"height":55,"data":{"values":[]},"mark":"rule","encoding":{}},
{"width":43,"height":55,"data":{"values":[]},"mark":"rule","encoding":{}},

{"width":33,"height":2,"data":{"values":[]},"mark":"rule","encoding":{}},
{"width":49,"height":2,"view":{"fill":"#7f9cb2","stroke":null},"data":{"values":[]},"mark":"rule","encoding":{},
 "title":{"text":"来源：Wind，国金证券研究所","orient":"bottom","anchor":"start","frame":"group","dx":8,"offset":5,"baseline":"top","fontSize":9,"fontWeight":"normal","color":"#333333"}},
{"width":255,"height":2,"view":{"fill":"#7f9cb2","stroke":null},"data":{"values":[]},"mark":"rule","encoding":{}},
{"width":21,"height":2,"view":{"fill":"#7f9cb2","stroke":null},"data":{"values":[]},"mark":"rule","encoding":{}},
{"width":7,"height":2,"data":{"values":[]},"mark":"rule","encoding":{}},
{"width":49,"height":2,"view":{"fill":"#7f9cb2","stroke":null},"data":{"values":[]},"mark":"rule","encoding":{},
 "title":{"text":"来源：Wind，国金证券研究所","orient":"bottom","anchor":"start","frame":"group","dx":8,"offset":5,"baseline":"top","fontSize":9,"fontWeight":"normal","color":"#333333"}},
{"width":267,"height":2,"view":{"fill":"#7f9cb2","stroke":null},"data":{"values":[]},"mark":"rule","encoding":{}},
{"width":9,"height":2,"view":{"fill":"#7f9cb2","stroke":null},"data":{"values":[]},"mark":"rule","encoding":{}},

{"width":33,"height":56,"data":{"values":[]},"mark":"rule","encoding":{},
 "title":{"text":"二、家用电器：  5 月白电排产同比+5.9%，家电 3 月出口维持较好增长","orient":"bottom","anchor":"start","frame":"group","dx":193,"offset":0,"baseline":"top","fontSize":15,"fontWeight":"bold","color":"#174f74"}},
{"width":49,"height":56,"data":{"values":[]},"mark":"rule","encoding":{}},
{"width":255,"height":56,"data":{"values":[]},"mark":"rule","encoding":{}},
{"width":21,"height":56,"data":{"values":[]},"mark":"rule","encoding":{}},
{"width":7,"height":56,"data":{"values":[]},"mark":"rule","encoding":{}},
{"width":49,"height":56,"data":{"values":[]},"mark":"rule","encoding":{}},
{"width":267,"height":56,"data":{"values":[]},"mark":"rule","encoding":{}},
{"width":43,"height":56,"data":{"values":[]},"mark":"rule","encoding":{}},

{"width":33,"height":31,"data":{"values":[]},"mark":"rule","encoding":{},
 "title":{"text":"■　   行业边际变化","orient":"bottom","anchor":"start","frame":"group","dx":193,"offset":0,"baseline":"top","fontSize":12.5,"fontWeight":"normal","color":"#2b2b2b"}},
{"width":49,"height":31,"data":{"values":[]},"mark":"rule","encoding":{}},
{"width":255,"height":31,"data":{"values":[]},"mark":"rule","encoding":{}},
{"width":21,"height":31,"data":{"values":[]},"mark":"rule","encoding":{}},
{"width":7,"height":31,"data":{"values":[]},"mark":"rule","encoding":{}},
{"width":49,"height":31,"data":{"values":[]},"mark":"rule","encoding":{}},
{"width":267,"height":31,"data":{"values":[]},"mark":"rule","encoding":{}},
{"width":43,"height":31,"data":{"values":[]},"mark":"rule","encoding":{}},

{"width":33,"height":19,"data":{"values":[]},"mark":"rule","encoding":{},
 "title":{"text":["1. 白电 5 月排产数据跟踪：据产业在线，5 月三大白电合计排产总量达 3821 万台，同比","+5.9%。分产品看，5 月份空调内销/出口排产 1437/893 万台，同比分别+15.4%/-1.6%；5","月份冰箱内销/出口排产 330/453 万台，同比分别-3.4%/-8.1%；5 月份洗衣机内销/出口","排产 319/389 万台，同比分别+4.6%/+3.4%。"],"orient":"bottom","anchor":"start","frame":"group","dx":193,"offset":0,"baseline":"top","lineHeight":15.3,"fontSize":12,"fontWeight":"normal","color":"#2b2b2b"}},
{"width":49,"height":19,"data":{"values":[]},"mark":"rule","encoding":{}},
{"width":255,"height":19,"data":{"values":[]},"mark":"rule","encoding":{}},
{"width":21,"height":19,"data":{"values":[]},"mark":"rule","encoding":{}},
{"width":7,"height":19,"data":{"values":[]},"mark":"rule","encoding":{}},
{"width":49,"height":19,"data":{"values":[]},"mark":"rule","encoding":{}},
{"width":267,"height":19,"data":{"values":[]},"mark":"rule","encoding":{}},
{"width":43,"height":19,"data":{"values":[]},"mark":"rule","encoding":{}},

{"width":33,"height":65,"data":{"values":[]},"mark":"rule","encoding":{},
 "title":{"text":["2. 家电 3 月出口数据跟踪：空调 3 月出口量同比+25%，其中欧洲、南美、中东、非洲出","口增速领先，分别同比+37%、+36%、+38%、+44%，北美仍在下滑区间，同比-6%；冰冷 3 月","出口量同比+12%，其中南美、东南亚、非洲在实现+35%、+54%、+56%的增长，北美同比-","9%，欧洲基本持平；洗衣机 3 月出口量同比+9%，其中中东、南美、非洲增长最快，分别","同比+23%、+21%、+31%，北美转负至-7%，欧洲相对稳健，同比+6%。"],"orient":"bottom","anchor":"start","frame":"group","dx":193,"offset":0,"baseline":"top","lineHeight":15.3,"fontSize":12,"fontWeight":"normal","color":"#2b2b2b"}},
{"width":49,"height":65,"data":{"values":[]},"mark":"rule","encoding":{}},
{"width":255,"height":65,"data":{"values":[]},"mark":"rule","encoding":{}},
{"width":21,"height":65,"data":{"values":[]},"mark":"rule","encoding":{}},
{"width":7,"height":65,"data":{"values":[]},"mark":"rule","encoding":{}},
{"width":49,"height":65,"data":{"values":[]},"mark":"rule","encoding":{}},
{"width":267,"height":65,"data":{"values":[]},"mark":"rule","encoding":{}},
{"width":43,"height":65,"data":{"values":[]},"mark":"rule","encoding":{}},

{"width":33,"height":109,"data":{"values":[]},"mark":"rule","encoding":{}},
{"width":49,"height":109,"data":{"values":[]},"mark":"rule","encoding":{}},
{"width":255,"height":109,"data":{"values":[]},"mark":"rule","encoding":{}},
{"width":21,"height":109,"data":{"values":[]},"mark":"rule","encoding":{}},
{"width":7,"height":109,"data":{"values":[]},"mark":"rule","encoding":{}},
{"width":49,"height":109,"data":{"values":[]},"mark":"rule","encoding":{}},
{"width":267,"height":109,"data":{"values":[]},"mark":"rule","encoding":{}},
{"width":43,"height":109,"data":{"values":[]},"mark":"rule","encoding":{}},

{"width":33,"height":1,"view":{"fill":"#8aa5b8","stroke":null},"data":{"values":[]},"mark":"rule","encoding":{}},
{"width":49,"height":1,"view":{"fill":"#8aa5b8","stroke":null},"data":{"values":[]},"mark":"rule","encoding":{}},
{"width":255,"height":1,"view":{"fill":"#8aa5b8","stroke":null},"data":{"values":[]},"mark":"rule","encoding":{}},
{"width":21,"height":1,"view":{"fill":"#8aa5b8","stroke":null},"data":{"values":[]},"mark":"rule","encoding":{}},
{"width":7,"height":1,"view":{"fill":"#8aa5b8","stroke":null},"data":{"values":[]},"mark":"rule","encoding":{}},
{"width":49,"height":1,"view":{"fill":"#8aa5b8","stroke":null},"data":{"values":[]},"mark":"rule","encoding":{}},
{"width":267,"height":1,"view":{"fill":"#8aa5b8","stroke":null},"data":{"values":[]},"mark":"rule","encoding":{}},
{"width":43,"height":1,"view":{"fill":"#8aa5b8","stroke":null},"data":{"values":[]},"mark":"rule","encoding":{}},

{"width":33,"height":26,"view":{"fill":"#0c4a6e","stroke":null},"data":{"values":[]},"mark":"rule","encoding":{}},
{"width":49,"height":26,"view":{"fill":"#0c4a6e","stroke":null},"data":{"values":[]},"mark":"rule","encoding":{}},
{"width":255,"height":26,"view":{"fill":"#0c4a6e","stroke":null},"data":{"values":[]},"mark":"rule","encoding":{}},
{"width":21,"height":26,"view":{"fill":"#0c4a6e","stroke":null},"data":{"values":[]},"mark":"rule","encoding":{}},
{"width":7,"height":26,"view":{"fill":"#0c4a6e","stroke":null},"data":{"values":[]},"mark":"rule","encoding":{}},
{"width":49,"height":26,"view":{"fill":"#0c4a6e","stroke":null},"data":{"values":[{}]},"mark":{"type":"text","text":"敬请参阅最后一页特别声明","font":"Noto Sans CJK SC","fontSize":8.5,"color":"#ffffff","align":"center","baseline":"middle","dx":-52.5},"encoding":{}},
{"width":265,"height":26,"view":{"fill":"#0c4a6e","stroke":null},"data":{"values":[]},"mark":"rule","encoding":{}},
{"width":43,"height":26,"data":{"values":[{}]},"mark":{"type":"text","text":"5","font":"Liberation Sans","fontSize":12,"color":"#111111","align":"center","baseline":"middle","dx":1.5},"encoding":{}}
]
}
